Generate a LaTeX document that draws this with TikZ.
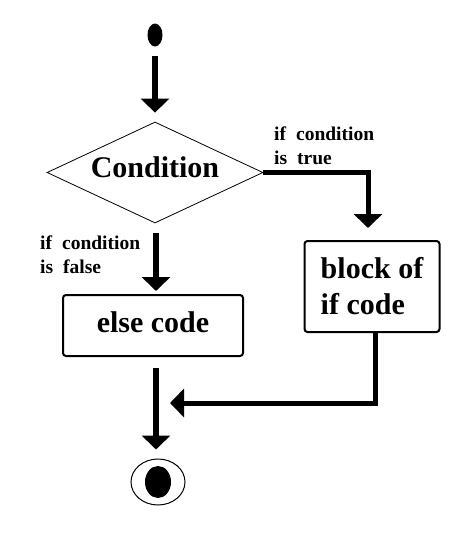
\documentclass[tikz,border=0pt]{standalone}
\usepackage{fontspec}
\setmainfont{Liberation Serif}
\usetikzlibrary{arrows.meta,shapes.geometric}
\begin{document}
\begin{tikzpicture}[x=1pt,y=-1pt,
  arr/.style={line width=6pt,-{Triangle[length=14pt,width=28pt]}},
  thinarr/.style={line width=5pt,-{Triangle[length=14pt,width=28pt]}},
  bigtext/.style={font=\bfseries\fontsize{30}{36}\selectfont},
  box/.style={draw,line width=2pt,rounded corners=3pt,inner sep=0pt,bigtext},
  lbl/.style={inner sep=0pt,anchor=base west,align=left,font=\bfseries\fontsize{19.5}{24}\selectfont}]
\useasboundingbox (0,0) rectangle (474,547);
\node[ellipse,fill,minimum width=15pt,minimum height=23pt,inner sep=0pt] (start) at (155,35) {};
\node[diamond,aspect=2.14,draw,line width=0.8pt,minimum width=216pt,minimum height=101pt,inner sep=0pt,bigtext,text height=20pt,text depth=11pt] (cond) at (155,172.5) {Condition};
\node[box,minimum width=180pt,minimum height=61pt,text height=20pt,text depth=7pt] (else) at (153,325.5) {else code};
\node[box,minimum width=135pt,minimum height=91pt,align=left] (blk) at (372,286.5) {block of\\if code};
\node[ellipse,draw,line width=1pt,minimum width=54pt,minimum height=46pt,inner sep=0pt] (end) at (158,482) {};
\node[ellipse,fill,minimum width=26pt,minimum height=32pt,inner sep=0pt] (endin) at (end.center) {};
\coordinate (merge) at (156,403);
\node[lbl] (tlab) at (274,164) {if\hspace{10pt}condition\\is\hspace{10pt}true};
\node[lbl] (flab) at (40,273) {if\hspace{10pt}condition\\is\hspace{10pt}false};
\draw[arr,shorten <=9pt,shorten >=9pt] (start) -- (cond.north);
\draw[arr,shorten <=10pt] (cond.south -| merge) -- ([yshift=3pt]else.north -| merge);
\draw[thinarr] (cond.east) -| ([xshift=-4pt,yshift=12pt]blk.north);
\draw[thinarr] ([xshift=3pt]blk.south) |- ([xshift=14pt]merge);
\draw[arr,shorten <=11pt,shorten >=9pt] (else.south -| merge) -- (end.north -| merge);
\end{tikzpicture}
\end{document}
